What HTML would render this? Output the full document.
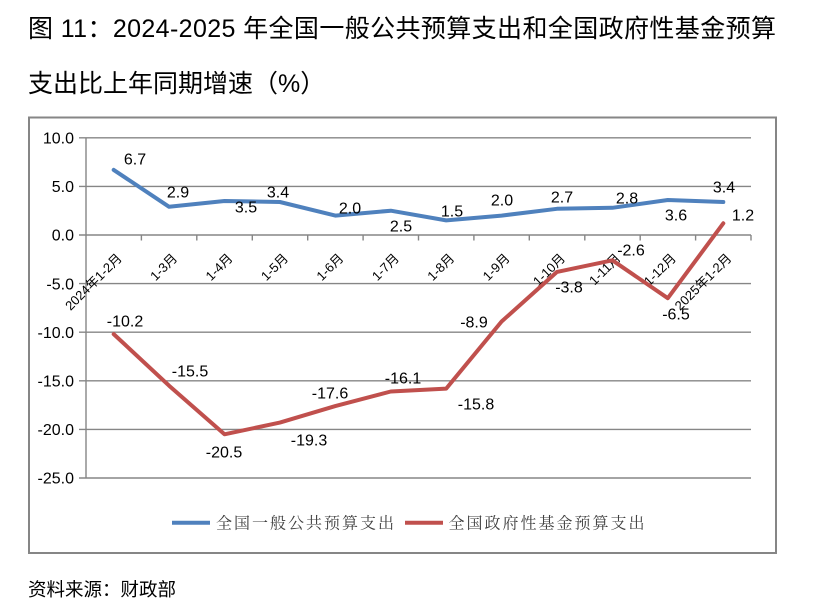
<!DOCTYPE html>
<html><head><meta charset="utf-8"><style>
html,body{margin:0;padding:0;background:#fff;}
svg{display:block;}
.ax{font-family:"Liberation Sans","Noto Sans CJK SC",sans-serif;font-size:16px;fill:#000;}
.xl{font-family:"Liberation Sans","Noto Sans CJK SC",sans-serif;font-size:13px;fill:#000;}
.dl{font-family:"Liberation Sans","Noto Sans CJK SC",sans-serif;font-size:16px;fill:#000;text-anchor:middle;}
.tt{font-family:"Liberation Sans","Noto Sans CJK SC",sans-serif;font-size:25px;fill:#000;}
.lg{font-family:"Liberation Serif","Noto Serif CJK SC",serif;font-size:16px;fill:#404040;}
</style></head><body>
<svg width="828" height="616" viewBox="0 0 828 616" xmlns="http://www.w3.org/2000/svg">
<rect width="828" height="616" fill="#fff"/>
<text class="tt" x="28" y="37" textLength="748" lengthAdjust="spacing">图 11：2024-2025 年全国一般公共预算支出和全国政府性基金预算</text>
<text class="tt" x="28" y="92">支出比上年同期增速（%）</text>

<rect x="29" y="117.5" width="747" height="435.5" fill="none" stroke="#868686" stroke-width="2"/>

<g stroke="#868686" stroke-width="1.4">
<line x1="79" y1="137.8" x2="751" y2="137.8"/>
<line x1="79" y1="186.4" x2="751" y2="186.4"/>
<line x1="79" y1="235" x2="751" y2="235"/>
<line x1="79" y1="283.6" x2="751" y2="283.6"/>
<line x1="79" y1="332.2" x2="751" y2="332.2"/>
<line x1="79" y1="380.8" x2="751" y2="380.8"/>
<line x1="79" y1="429.4" x2="751" y2="429.4"/>
<line x1="79" y1="478" x2="751" y2="478"/>
<line x1="86" y1="137.8" x2="86" y2="478"/>
<line x1="141.4" y1="235" x2="141.4" y2="240.5"/>
<line x1="196.8" y1="235" x2="196.8" y2="240.5"/>
<line x1="252.3" y1="235" x2="252.3" y2="240.5"/>
<line x1="307.7" y1="235" x2="307.7" y2="240.5"/>
<line x1="363.1" y1="235" x2="363.1" y2="240.5"/>
<line x1="418.5" y1="235" x2="418.5" y2="240.5"/>
<line x1="473.9" y1="235" x2="473.9" y2="240.5"/>
<line x1="529.3" y1="235" x2="529.3" y2="240.5"/>
<line x1="584.8" y1="235" x2="584.8" y2="240.5"/>
<line x1="640.2" y1="235" x2="640.2" y2="240.5"/>
<line x1="695.6" y1="235" x2="695.6" y2="240.5"/>
<line x1="751" y1="235" x2="751" y2="240.5"/>
</g>

<g class="ax" text-anchor="end">
<text x="74" y="143.5">10.0</text>
<text x="74" y="192.1">5.0</text>
<text x="74" y="240.7">0.0</text>
<text x="74" y="289.3">-5.0</text>
<text x="74" y="337.9">-10.0</text>
<text x="74" y="386.5">-15.0</text>
<text x="74" y="435.1">-20.0</text>
<text x="74" y="483.7">-25.0</text>
</g>

<g class="xl" text-anchor="end">
<text transform="translate(122.7,259) rotate(-45)">2024年1-2月</text>
<text transform="translate(178.1,259) rotate(-45)">1-3月</text>
<text transform="translate(233.5,259) rotate(-45)">1-4月</text>
<text transform="translate(288.9,259) rotate(-45)">1-5月</text>
<text transform="translate(344.3,259) rotate(-45)">1-6月</text>
<text transform="translate(399.8,259) rotate(-45)">1-7月</text>
<text transform="translate(455.2,259) rotate(-45)">1-8月</text>
<text transform="translate(510.6,259) rotate(-45)">1-9月</text>
<text transform="translate(566,259) rotate(-45)">1-10月</text>
<text transform="translate(621.4,259) rotate(-45)">1-11月</text>
<text transform="translate(676.8,259) rotate(-45)">1-12月</text>
<text transform="translate(732.3,259) rotate(-45)">2025年1-2月</text>
</g>

<polyline fill="none" stroke="#4F81BD" stroke-width="4" stroke-linejoin="round" stroke-linecap="round"
points="113.7,169.9 169.1,206.8 224.5,201.0 279.9,202.0 335.3,215.6 390.8,210.7 446.2,220.4 501.6,215.6 557.0,208.8 612.4,207.8 667.8,200.0 723.3,202.0"/>
<polyline fill="none" stroke="#C0504D" stroke-width="4" stroke-linejoin="round" stroke-linecap="round"
points="113.7,334.1 169.1,385.7 224.5,434.3 279.9,422.6 335.3,406.1 390.8,391.5 446.2,388.6 501.6,321.5 557.0,271.9 612.4,260.3 667.8,298.2 723.3,223.3"/>

<g class="dl">
<text x="135" y="164.5">6.7</text>
<text x="178" y="197.5">2.9</text>
<text x="246" y="212.5">3.5</text>
<text x="278" y="197.5">3.4</text>
<text x="350" y="213.5">2.0</text>
<text x="401" y="231.5">2.5</text>
<text x="452" y="216.5">1.5</text>
<text x="502" y="205.5">2.0</text>
<text x="562" y="202.5">2.7</text>
<text x="627" y="203.5">2.8</text>
<text x="676" y="220.5">3.6</text>
<text x="724" y="192.5">3.4</text>

<text x="125" y="326.5">-10.2</text>
<text x="190" y="376.5">-15.5</text>
<text x="224" y="457.5">-20.5</text>
<text x="309" y="445.5">-19.3</text>
<text x="330" y="398.5">-17.6</text>
<text x="403" y="383.5">-16.1</text>
<text x="476" y="409.5">-15.8</text>
<text x="474" y="327.5">-8.9</text>
<text x="569" y="292.5">-3.8</text>
<text x="631" y="255.5">-2.6</text>
<text x="676" y="319.5">-6.5</text>
<text x="743" y="220.5">1.2</text>
</g>

<line x1="172" y1="522.7" x2="210" y2="522.7" stroke="#4F81BD" stroke-width="4"/>
<text class="lg" x="216" y="528.5" textLength="178" lengthAdjust="spacing">全国一般公共预算支出</text>
<line x1="405" y1="522.7" x2="443" y2="522.7" stroke="#C0504D" stroke-width="4"/>
<text class="lg" x="448.5" y="528.5" textLength="196" lengthAdjust="spacing">全国政府性基金预算支出</text>

<text x="28" y="596" style="font-family:'Liberation Sans','Noto Sans CJK SC',sans-serif;font-size:18.5px;fill:#000;">资料来源：财政部</text>
</svg>
</body></html>
